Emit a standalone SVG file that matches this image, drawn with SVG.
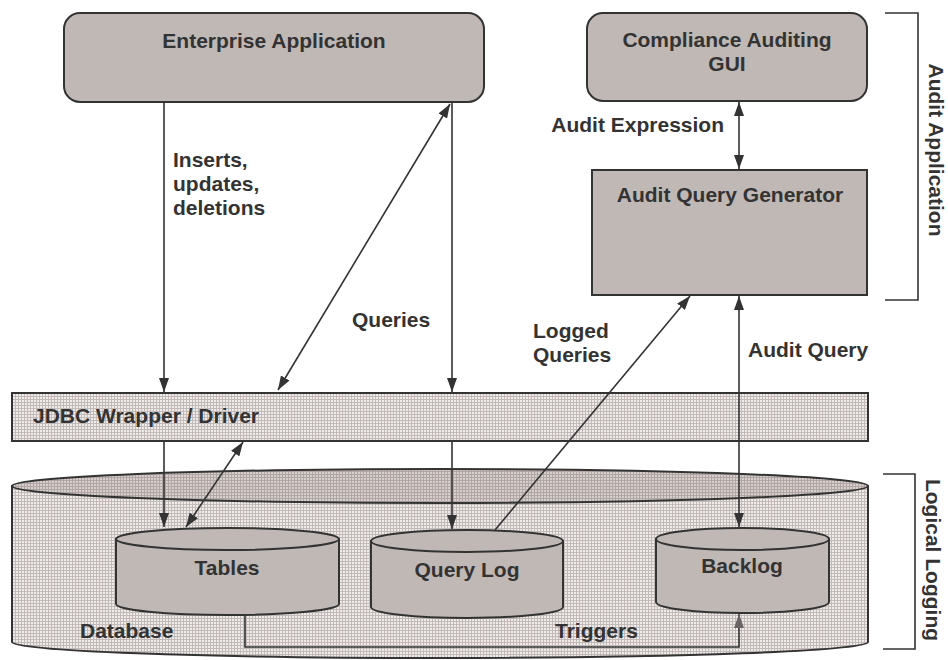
<svg xmlns="http://www.w3.org/2000/svg" width="948" height="660" viewBox="0 0 948 660">
<defs>
<pattern id="grid" width="3" height="3" patternUnits="userSpaceOnUse">
<rect width="3" height="3" fill="#efebe9"/>
<path d="M0 0.5H3M0.5 0V3" stroke="#c2bab8" stroke-width="1"/>
</pattern>
<pattern id="gridDark" width="3" height="3" patternUnits="userSpaceOnUse">
<rect width="3" height="3" fill="#d6cecb"/>
<path d="M0 0.5H3M0.5 0V3" stroke="#b0a7a5" stroke-width="1"/>
</pattern>
<marker id="ah" viewBox="0 0 14 10" refX="14" refY="5" markerWidth="14" markerHeight="10" markerUnits="userSpaceOnUse" orient="auto-start-reverse">
<path d="M0,0 L14,5 L0,10 z" fill="#333"/>
</marker>
<marker id="ahGray" viewBox="0 0 14 10" refX="14" refY="5" markerWidth="14" markerHeight="10" markerUnits="userSpaceOnUse" orient="auto">
<path d="M0,0 L14,5 L0,10 z" fill="#6a6464"/>
</marker>
</defs>
<style>
.box{fill:#c0b8b5;stroke:#333;stroke-width:2}
.t{font-family:"Liberation Sans",Arial,sans-serif;font-weight:bold;font-size:21px;fill:#333}
.c{text-anchor:middle}
.ln{fill:none;stroke:#333;stroke-width:1.6}
.br{fill:none;stroke:#333;stroke-width:1.6}
</style>

<g id="database">
<path d="M12,486 V642 A428,16 0 0 0 868,642 V486 Z" fill="url(#grid)" stroke="#333" stroke-width="2"/>
<ellipse cx="440" cy="486" rx="428" ry="17" fill="url(#gridDark)" stroke="#333" stroke-width="2"/>
<text class="t" x="80" y="638">Database</text>
</g>

<g id="jdbc">
<rect x="12" y="393" width="856" height="48" fill="url(#grid)" stroke="#333" stroke-width="2"/>
<text class="t" x="33" y="423">JDBC Wrapper / Driver</text>
</g>

<g id="enterprise">
<rect class="box" x="64" y="13" width="420" height="89" rx="16"/>
<text class="t c" x="274" y="48">Enterprise Application</text>
</g>

<g id="gui">
<rect class="box" x="587" y="13" width="280" height="88" rx="16"/>
<text class="t c" x="727" y="47">Compliance Auditing</text>
<text class="t c" x="727" y="71">GUI</text>
</g>

<g id="generator">
<rect class="box" x="592" y="170" width="275" height="125"/>
<text class="t c" x="730" y="202">Audit Query Generator</text>
</g>

<g id="tables">
<path class="box" d="M116,539 V604 A111.5,11 0 0 0 339,604 V539 Z"/>
<ellipse class="box" cx="227.5" cy="539" rx="111.5" ry="11"/>
<text class="t c" x="227" y="575">Tables</text>
</g>

<g id="querylog">
<path class="box" d="M371,541 V607 A96,11 0 0 0 563,607 V541 Z"/>
<ellipse class="box" cx="467" cy="541" rx="96" ry="11"/>
<text class="t c" x="467" y="577">Query Log</text>
</g>

<g id="backlog">
<path class="box" d="M656,539 V602 A86.5,11 0 0 0 829,602 V539 Z"/>
<ellipse class="box" cx="742.5" cy="539" rx="86.5" ry="11"/>
<text class="t c" x="742" y="573">Backlog</text>
</g>

<g id="brackets">
<path class="br" d="M885,13 H918 V300 H885"/>
<text class="t c" transform="translate(929,150) rotate(90)">Audit Application</text>
<path class="br" d="M883,474 H915 V649 H883"/>
<text class="t c" transform="translate(926,560) rotate(90)">Logical Logging</text>
</g>

<g id="connectors">
<line class="ln" x1="164" y1="102" x2="164" y2="392" marker-end="url(#ah)"/>
<line class="ln" x1="278" y1="390" x2="450" y2="104" marker-start="url(#ah)" marker-end="url(#ah)"/>
<line class="ln" x1="452" y1="102" x2="452" y2="392" marker-end="url(#ah)"/>
<line class="ln" x1="739" y1="102" x2="739" y2="169" marker-start="url(#ah)" marker-end="url(#ah)"/>
<line class="ln" x1="739" y1="296" x2="739" y2="527" marker-start="url(#ah)" marker-end="url(#ah)"/>
<line class="ln" x1="164" y1="441" x2="164" y2="527" marker-end="url(#ah)"/>
<line class="ln" x1="243" y1="442" x2="186" y2="527" marker-start="url(#ah)" marker-end="url(#ah)"/>
<line class="ln" x1="452" y1="441" x2="452" y2="529" marker-end="url(#ah)"/>
<line class="ln" x1="495" y1="530" x2="690" y2="296" marker-end="url(#ah)"/>
<path class="ln" d="M245,615 V647 H739 V614" marker-end="url(#ahGray)"/>
<text class="t" x="173" y="167">Inserts,</text>
<text class="t" x="173" y="191">updates,</text>
<text class="t" x="173" y="215">deletions</text>
<text class="t" x="352" y="327">Queries</text>
<text class="t" x="533" y="338">Logged</text>
<text class="t" x="533" y="362">Queries</text>
<text class="t" x="748" y="357">Audit Query</text>
<text class="t" text-anchor="end" x="724" y="132">Audit Expression</text>
<text class="t" x="555" y="638">Triggers</text>
</g>
</svg>
